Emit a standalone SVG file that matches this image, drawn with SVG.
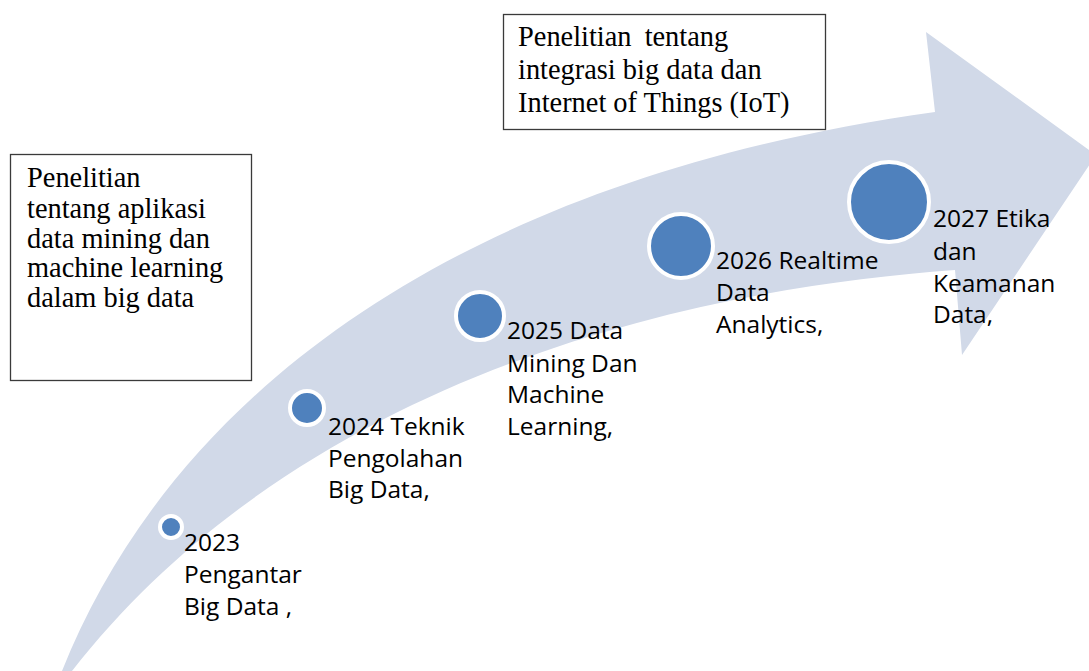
<svg xmlns="http://www.w3.org/2000/svg" width="1089" height="671" viewBox="0 0 1089 671">
<style>
  .arrow { fill: #D1D9E8; stroke: none; }
  .dot { fill: #4F81BD; stroke: #FFFFFF; stroke-width: 4; }
  .lbl { font-family: "Open Sans", "Liberation Sans", sans-serif; font-size: 24.5px; fill: #000000; }
  .box { fill: #FFFFFF; stroke: #3a3a3a; stroke-width: 1.3; }
  .note { font-family: "Liberation Serif", "Times New Roman", serif; font-size: 28.4px; fill: #000000; }
</style>
<rect width="1089" height="671" fill="#FFFFFF"/>
<g id="connectors">
  <path class="arrow" d="M62,671 C170,400 450,180 935,112 L926,32 L1096,155 L962,355 L955,270 C680,290 300,380 72,671 Z"/>
</g>
<g id="node-2023">
  <circle class="dot" cx="171" cy="527" r="11"/>
  <text class="lbl" x="184" y="551">2023</text>
  <text class="lbl" x="184" y="583">Pengantar</text>
  <text class="lbl" x="184" y="615">Big Data ,</text>
</g>
<g id="node-2024">
  <circle class="dot" cx="307" cy="408" r="17"/>
  <text class="lbl" x="328" y="435">2024 Teknik</text>
  <text class="lbl" x="328" y="467">Pengolahan</text>
  <text class="lbl" x="328" y="498">Big Data,</text>
</g>
<g id="node-2025">
  <circle class="dot" cx="480" cy="316" r="24"/>
  <text class="lbl" x="507" y="339">2025 Data</text>
  <text class="lbl" x="507" y="372">Mining Dan</text>
  <text class="lbl" x="507" y="403">Machine</text>
  <text class="lbl" x="507" y="435">Learning,</text>
</g>
<g id="node-2026">
  <circle class="dot" cx="681" cy="246" r="32"/>
  <text class="lbl" x="716" y="269">2026 Realtime</text>
  <text class="lbl" x="716" y="301">Data</text>
  <text class="lbl" x="716" y="333">Analytics,</text>
</g>
<g id="node-2027">
  <circle class="dot" cx="889" cy="202" r="40"/>
  <text class="lbl" x="933" y="227">2027 Etika</text>
  <text class="lbl" x="933" y="260">dan</text>
  <text class="lbl" x="933" y="292">Keamanan</text>
  <text class="lbl" x="933" y="323">Data,</text>
</g>
<g id="note-datamining">
  <rect class="box" x="10.5" y="154.5" width="241" height="226"/>
  <text class="note" x="27" y="187">Penelitian</text>
  <text class="note" x="27" y="218">tentang aplikasi</text>
  <text class="note" x="27" y="248">data mining dan</text>
  <text class="note" x="27" y="277">machine learning</text>
  <text class="note" x="27" y="307">dalam big data</text>
</g>
<g id="note-iot">
  <rect class="box" x="503.5" y="14.5" width="322" height="115"/>
  <text class="note" x="518" y="46" word-spacing="6">Penelitian tentang</text>
  <text class="note" x="518" y="79">integrasi big data dan</text>
  <text class="note" x="518" y="112">Internet of Things (IoT)</text>
</g>
</svg>
